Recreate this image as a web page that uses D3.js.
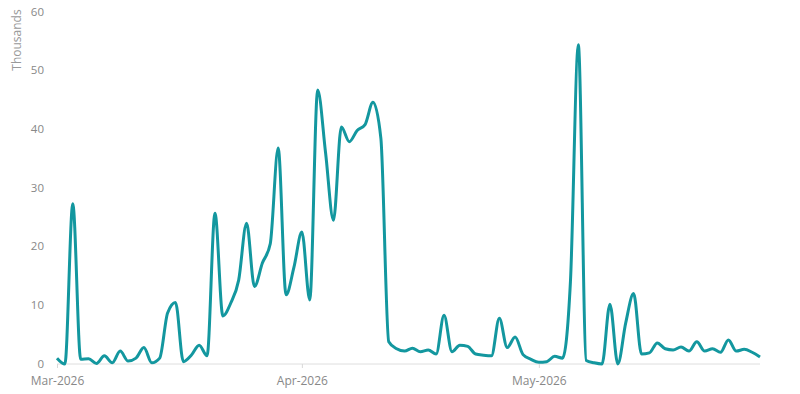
<!DOCTYPE html>
<html><head><meta charset="utf-8">
<script src="https://cdn.jsdelivr.net/npm/d3@7"></script>
<style>body{margin:0;background:#fff}svg{display:block}text{font-family:"Open Sans","Noto Sans",sans-serif}</style>
</head><body><svg id="c" width="800" height="394"></svg>
<script>
const startDate = "2026-03-01";
const values = [1.0,0,27.3,0.8,0.9,0.1,1.4,0.2,2.2,0.5,
1.0,2.8,0.2,1.0,8.7,10.5,0.4,1.5,3.2,1.4,
25.7,8.2,10.4,14.3,24,13.2,17.2,20.5,36.8,11.8,
16.5,22.5,10.9,46.7,36,24.5,40.4,37.9,39.8,40.8,
44.6,38.5,3.8,2.6,2.2,2.7,2.1,2.4,1.7,8.3,
2.1,3.2,3.0,1.7,1.5,1.4,7.8,2.8,4.6,1.6,
0.8,0.3,0.4,1.3,1.0,14,54.4,0.6,0.2,0,
10.2,0,7,12,1.7,1.9,3.6,2.6,2.4,2.9,
2.2,3.8,2.2,2.6,2.0,4.1,2.2,2.5,2.0,1.2];
const yTicks = [0,10,20,30,40,50,60];
const xTickDates = ["2026-03-01","2026-04-01","2026-05-01"];
const yTitle = "Thousands";

const parse = d3.utcParse("%Y-%m-%d");
const t0 = parse(startDate);
const data = values.map((v,i)=>({date:d3.utcDay.offset(t0,i), v}));

const svg = d3.select("#c");
const x = d3.scaleUtc().domain(d3.extent(data,d=>d.date)).range([57,760]);
const y = d3.scaleLinear().domain([0,60]).range([364,12]);

svg.append("line").attr("x1",57).attr("x2",760).attr("y1",y(0)).attr("y2",y(0))
  .attr("stroke","#dedede").attr("stroke-width",1);

const xAxis = d3.axisBottom(x).tickValues(xTickDates.map(parse))
  .tickFormat(d3.utcFormat("%b-%Y")).tickSize(4).tickPadding(8);
const gx = svg.append("g").attr("transform",`translate(0,${y(0)})`).call(xAxis);
gx.select(".domain").remove();
gx.selectAll("line").attr("stroke","#d8d8d8");
gx.selectAll("text").attr("fill","#888").attr("font-size",12);

const yAxis = d3.axisLeft(y).tickValues(yTicks).tickSize(0).tickPadding(13);
const gy = svg.append("g").attr("transform","translate(57,0)").call(yAxis);
gy.select(".domain").remove();
gy.selectAll("text").attr("fill","#888").attr("font-size",11.5).attr("dy","0.28em");

svg.append("text").attr("transform","translate(21,40) rotate(-90)")
  .attr("text-anchor","middle").attr("fill","#999").attr("font-size",12).text(yTitle);

const line = d3.line().x(d=>x(d.date)).y(d=>y(d.v)).curve(d3.curveMonotoneX);
svg.append("path").datum(data).attr("d",line).attr("fill","none")
  .attr("stroke","#13979f").attr("stroke-width",3).attr("stroke-linejoin","round");
</script></body></html>
